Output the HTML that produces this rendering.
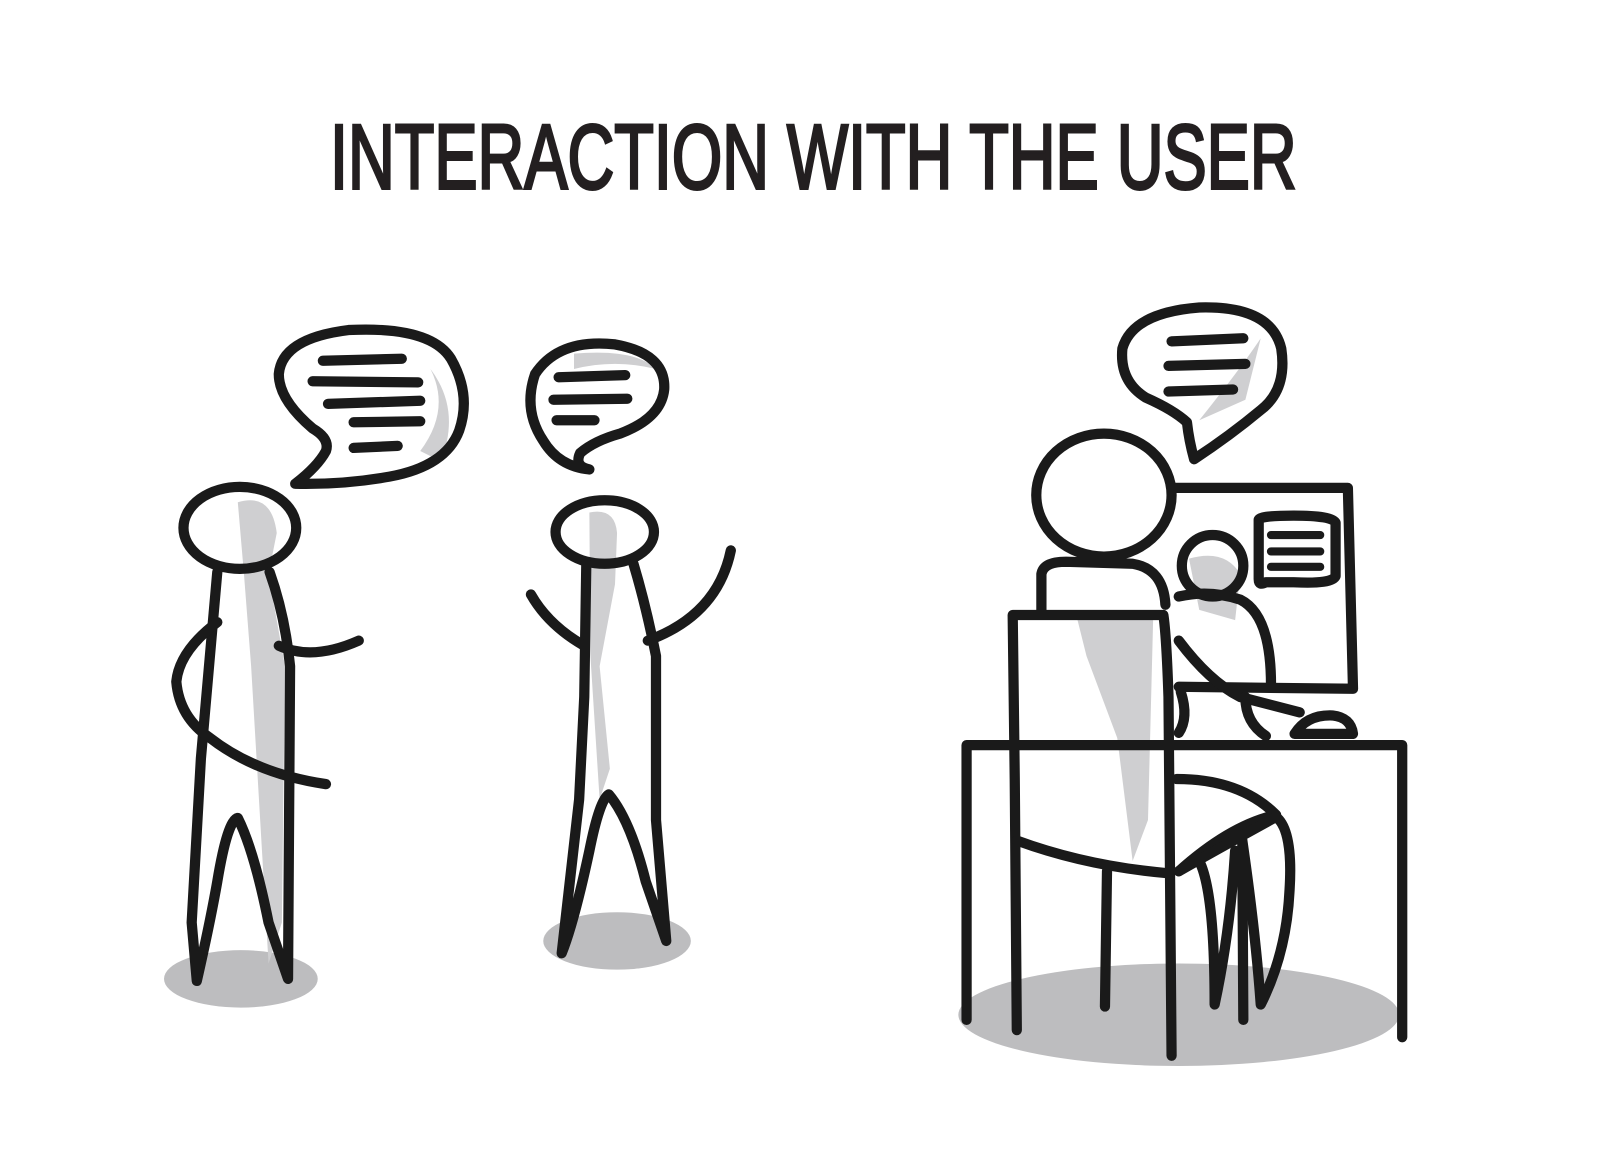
<!DOCTYPE html>
<html><head><meta charset="utf-8"><style>
html,body{margin:0;padding:0;background:#fff;}
svg{display:block;}
</style></head><body>
<svg width="1600" height="1152" viewBox="0 0 1600 1152" xmlns="http://www.w3.org/2000/svg">
<g transform="scale(1.025)">
<text x="322" y="184" font-family="Liberation Sans, sans-serif" font-size="90" textLength="943" lengthAdjust="spacingAndGlyphs" fill="#231f20" stroke="#231f20" stroke-width="3">INTERACTION WITH THE USER</text>

<g fill="#bdbdbf">
<ellipse cx="235" cy="955" rx="75" ry="28"/>
<ellipse cx="602" cy="918" rx="72" ry="28"/>
<ellipse cx="1150" cy="990" rx="215" ry="50"/>
</g>
<g fill="#cfcfd1">
<path d="M232 490 Q265 480 270 520 L262 560 L278 650 L275 900 L262 940 L255 820 L245 650 L238 560Z"/>
<path d="M575 500 Q600 495 602 520 L600 570 L585 650 L595 750 L585 780 L576 640 Z"/>
<path d="M1098 430 Q1125 440 1120 500 L1100 540 L1090 520 Z"/>
<path d="M1050 600 L1125 605 L1120 800 L1105 840 L1090 720 L1060 640Z"/>
<path d="M1160 545 Q1195 535 1210 560 L1205 605 L1170 595Z"/>
<path d="M1170 410 Q1210 360 1230 330 L1215 390 Z"/>
<path d="M420 360 Q450 400 430 450 L410 440 Q440 400 420 360Z"/>
<path d="M560 345 Q620 340 640 360 Q600 350 560 360Z"/>
</g>

<g fill="none" stroke="#1a1a1a" stroke-width="10" stroke-linecap="round" stroke-linejoin="round">
<path d="M288 472 Q310 455 318 440 Q322 428 305 418 Q272 390 272 365 Q275 330 340 322 Q420 318 440 350 Q460 385 448 420 Q435 455 380 465 Q335 473 288 472 Z"/>
<path d="M315 352 L392 350 M305 372 L408 373 M320 394 L410 391 M345 412 L410 411 M345 437 L388 435"/>
<ellipse cx="234" cy="515" rx="55" ry="40"/>
<path d="M212 558 L196 740 L187 900 L192 957 Q205 900 212 860 Q222 800 232 798 Q248 830 262 900 L281 955 L283 650 Q278 600 263 558"/>
<path d="M212 607 Q175 635 172 665 Q175 700 205 720 Q250 755 318 765"/>
<path d="M272 630 Q305 645 350 625"/>
<path d="M575 458 Q560 455 566 442 Q580 430 605 423 Q645 408 648 380 Q650 345 600 336 Q545 330 522 365 Q510 400 530 430 Q545 455 575 458 Z"/>
<path d="M545 368 L610 366 M540 390 L612 389 M543 410 L580 410"/>
<ellipse cx="590" cy="519" rx="48" ry="31"/>
<path d="M572 550 L570 680 L565 780 L548 930 Q560 900 575 830 Q585 780 594 775 Q615 800 630 860 L650 918 L640 800 L640 640 Q630 590 618 550"/>
<path d="M518 580 Q535 610 570 630"/>
<path d="M632 625 Q700 600 713 537"/>
<path d="M1165 448 Q1160 430 1158 412 Q1145 400 1118 388 Q1092 372 1095 340 Q1105 305 1170 300 Q1240 298 1250 340 Q1256 380 1230 400 Q1200 425 1165 448 Z"/>
<path d="M1143 333 L1213 330 M1140 357 L1215 355 M1140 382 L1203 380"/>
<path d="M1145 476 L1315 476 L1320 672 L1150 670"/>
<path d="M1228 507 Q1230 503 1262 503 Q1300 503 1303 510 L1303 562 Q1300 570 1262 568 L1235 568 Q1228 572 1228 565Z"/>
<path d="M1240 522 L1288 522 M1240 538 L1288 538 M1240 553 L1288 553" stroke-width="8"/>
<circle cx="1183" cy="552" r="30"/>
<path d="M1150 582 Q1180 575 1210 585 Q1240 600 1240 668"/>
<path d="M1150 625 Q1180 665 1210 680 L1268 695"/>
<path d="M1215 680 Q1215 705 1235 718"/>
<path d="M1152 675 Q1160 700 1150 715"/>
<path d="M1263 716 Q1275 697 1300 698 Q1318 700 1320 716 Z"/>
<path d="M943 995 L943 727 L1368 727 L1368 1012"/>
<ellipse cx="1077" cy="483" rx="66" ry="60" fill="#fff"/>
<path d="M1016 595 L1016 560 Q1018 548 1040 548 L1105 550 Q1135 555 1137 590"/>
<path d="M1143 1030 L1140 680 Q1138 620 1135 600 L988 600 L990 760 L992 1005"/>
<path d="M992 820 Q1060 845 1140 852"/>
<path d="M1080 850 L1078 982"/>
<path d="M1148 760 Q1210 760 1245 795 Q1200 805 1150 850"/>
<path d="M1150 850 Q1185 830 1245 797 Q1262 810 1258 870 Q1255 930 1230 980 Q1225 910 1212 820"/>
<path d="M1170 840 Q1185 870 1185 980 Q1200 910 1205 830"/>
<path d="M1212 820 L1213 995"/>
</g>
</g>
</svg>
</body></html>
